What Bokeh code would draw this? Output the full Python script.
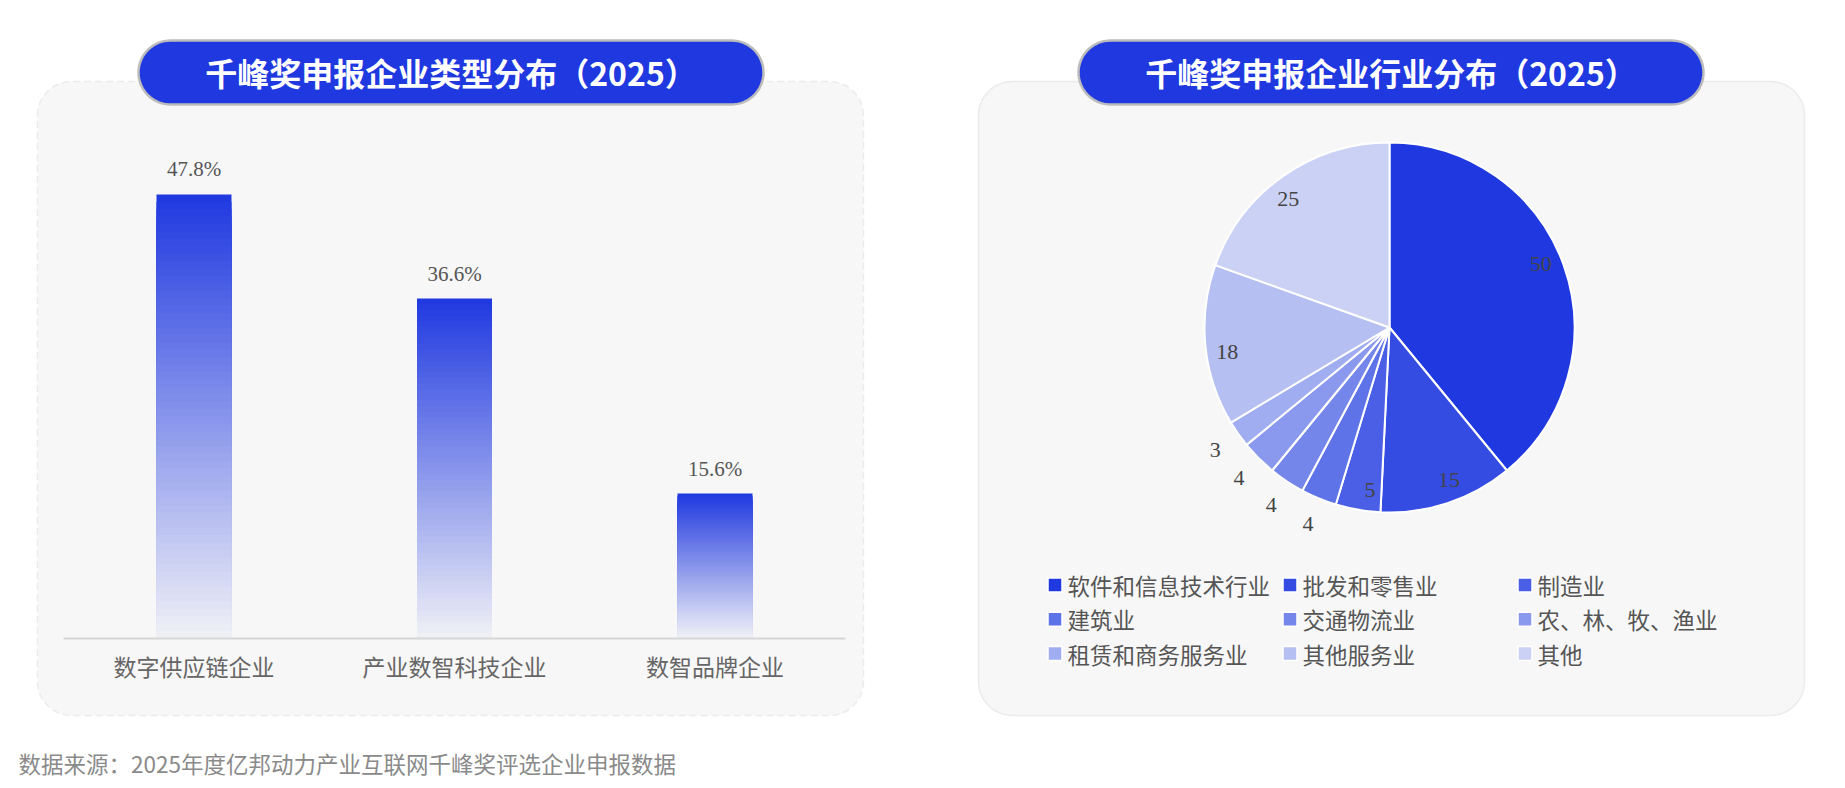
import math
from bokeh.plotting import figure
from bokeh.models import Range1d, ColumnDataSource
from bokeh.layouts import row
from bokeh.embed import file_html
from bokeh.resources import INLINE
from bokeh.core.properties import value

# ---------------- data ----------------
bar_categories = ["数字供应链企业", "产业数智科技企业", "数智品牌企业"]
bar_values = [47.8, 36.6, 15.6]
bar_labels = ["47.8%", "36.6%", "15.6%"]

pie_categories = ["软件和信息技术行业", "批发和零售业", "制造业", "建筑业", "交通物流业",
                  "农、林、牧、渔业", "租赁和商务服务业", "其他服务业", "其他"]
pie_values = [50, 15, 5, 4, 4, 4, 3, 18, 25]
pie_colors = ["#1f38e0", "#354ce2", "#4a5fe5", "#5f73e8", "#7586ea",
              "#8a99ed", "#a0adf0", "#b5bff2", "#cbd1f4"]

titles = ["千峰奖申报企业类型分布（2025）", "千峰奖申报企业行业分布（2025）"]
source_note = "数据来源：2025年度亿邦动力产业互联网千峰奖评选企业申报数据"

# ---------------- styles / layout ----------------
H = 780
WL = 900
WR = 937
BLUE = "#1f38e0"
PANEL_BG = "#f7f7f7"
CJK = value("Noto Sans CJK SC")
NUM = value("Liberation Serif")


def rounded_rect(x0, y0, x1, y1, r, n=16):
    xs, ys = [], []
    corners = [((x0 + r, y0 + r), 180, 270), ((x1 - r, y0 + r), 270, 360),
               ((x1 - r, y1 - r), 0, 90), ((x0 + r, y1 - r), 90, 180)]
    for (cx, cy), a0, a1 in corners:
        for i in range(n + 1):
            a = math.radians(a0 + (a1 - a0) * i / n)
            xs.append(cx + r * math.cos(a))
            ys.append(cy + r * math.sin(a))
    return xs, ys


def mix(c1, c2, t):
    a = [int(c1[i:i + 2], 16) for i in (1, 3, 5)]
    b = [int(c2[i:i + 2], 16) for i in (1, 3, 5)]
    return "#%02x%02x%02x" % tuple(round(a[j] * (1 - t) + b[j] * t) for j in range(3))


def base_fig(w, xr, yr):
    p = figure(width=w, height=H, x_range=xr, y_range=yr, toolbar_location=None,
               output_backend="svg", min_border=0, x_axis_location=None,
               y_axis_location=None, outline_line_color=None,
               background_fill_color="white", border_fill_color="white")
    p.grid.visible = False
    return p


def decorate(p, w, panel, pill, title, dashed):
    p.extra_x_ranges = {"px": Range1d(0, w)}
    p.extra_y_ranges = {"py": Range1d(H, 0)}
    xs, ys = rounded_rect(*panel, 34)
    p.patch(xs, ys, fill_color=PANEL_BG, line_color="#ebebeb", line_width=1.5,
            line_dash="7 4" if dashed else "solid", x_range_name="px", y_range_name="py")
    xs, ys = rounded_rect(*pill, 32)
    p.patch(xs, ys, fill_color=BLUE, line_color="#bcbcbc", line_width=2.5,
            x_range_name="px", y_range_name="py")
    p.text(x=[(pill[0] + pill[2]) / 2], y=[(pill[1] + pill[3]) / 2 - 1], text=[title],
           text_color="white", text_font=CJK, text_font_style="bold",
           text_font_size="32px", text_align="center", text_baseline="middle",
           x_range_name="px", y_range_name="py")


# ---------------- left: bar chart ----------------
unit_px = 260.5                      # pixels per category slot
mid_bar_px = 454                     # pixel position of the middle slot centre
x_start = len(bar_categories) / 2 - mid_bar_px / unit_px
px_per_pct = 9.289
base_from_bottom = H - 638
xr = Range1d(x_start, x_start + WL / unit_px)
yr = Range1d(-base_from_bottom / px_per_pct, (H - base_from_bottom) / px_per_pct)
left = base_fig(WL, xr, yr)
decorate(left, WL, (37, 81, 863, 715), (138, 40, 763, 104), titles[0], True)

bar_x = [i + 0.5 for i in range(len(bar_categories))]

# gradient bars (stacked bands from top colour to the panel colour)
N = 60
seg = {"x": [], "top": [], "color": []}
for bx, v in zip(bar_x, bar_values):
    for k in range(N):
        seg["x"].append(bx)
        seg["top"].append(v * (1 - k / N))
        seg["color"].append(mix(BLUE, PANEL_BG, (k + 0.5) / N * 0.97))
left.vbar(x="x", top="top", bottom=0, width=75 / unit_px, fill_color="color",
          line_color=None, source=ColumnDataSource(seg))

left.segment(x0=[63], x1=[845], y0=[638], y1=[638], line_color="#d6d6d6", line_width=2,
             x_range_name="px", y_range_name="py")

left.text(x=bar_x, y=[v + 25 / px_per_pct for v in bar_values], text=bar_labels,
          text_font=NUM, text_font_size="21px", text_color="#555555",
          text_align="center", text_baseline="middle")
left.text(x=bar_x, y=[-27 / px_per_pct] * len(bar_categories), text=bar_categories,
          text_font=CJK, text_font_size="23px", text_color="#666666",
          text_align="center", text_baseline="middle")
left.text(x=[18], y=[762], text=[source_note], text_font=CJK, text_font_size="22.5px",
          text_color="#8a8a8a", text_align="left", text_baseline="middle",
          x_range_name="px", y_range_name="py")

# ---------------- right: pie chart ----------------
cx, cy, R = 489, 327, 185
right = base_fig(WR, Range1d(-cx, WR - cx), Range1d(-(H - cy), cy))
decorate(right, WR, (78, 81, 904, 715), (178, 40, 803, 104), titles[1], False)

total = float(sum(pie_values))
starts, ends, lx, ly = [], [], [], []
c = 0.0
for v in pie_values:
    c0, c1 = c / total, (c + v) / total
    c += v
    starts.append(math.pi / 2 - 2 * math.pi * c0)
    ends.append(math.pi / 2 - 2 * math.pi * c1)
    mid = 2 * math.pi * (c0 + c1) / 2
    if v >= 5:
        th, rr = mid - math.radians(3), 164
    else:
        th, rr = mid, 213
    lx.append(rr * math.sin(th))
    ly.append(rr * math.cos(th))

right.wedge(x=0, y=0, radius=R, start_angle=starts, end_angle=ends, direction="clock",
            fill_color=pie_colors, line_color="white", line_width=2)
right.text(x=lx, y=ly, text=[str(v) for v in pie_values], text_font=NUM,
           text_font_size="22px", text_color="#444444", text_align="center",
           text_baseline="middle")

# legend (3 x 3 grid)
lgx = [154.5 + (i % 3) * 235 for i in range(len(pie_categories))]
lgy = [584.5 + (i // 3) * 34.3 for i in range(len(pie_categories))]
right.scatter(x=lgx, y=lgy, marker="square", size=14, fill_color=pie_colors,
              line_color="white", line_width=1.5, x_range_name="px", y_range_name="py")
right.text(x=[x + 12.5 for x in lgx], y=lgy, text=pie_categories, text_font=CJK,
           text_font_size="22.5px", text_color="#555555", text_align="left",
           text_baseline="middle", x_range_name="px", y_range_name="py")

layout = row(left, right, spacing=0)
open("out.html", "w").write(file_html(layout, INLINE))
